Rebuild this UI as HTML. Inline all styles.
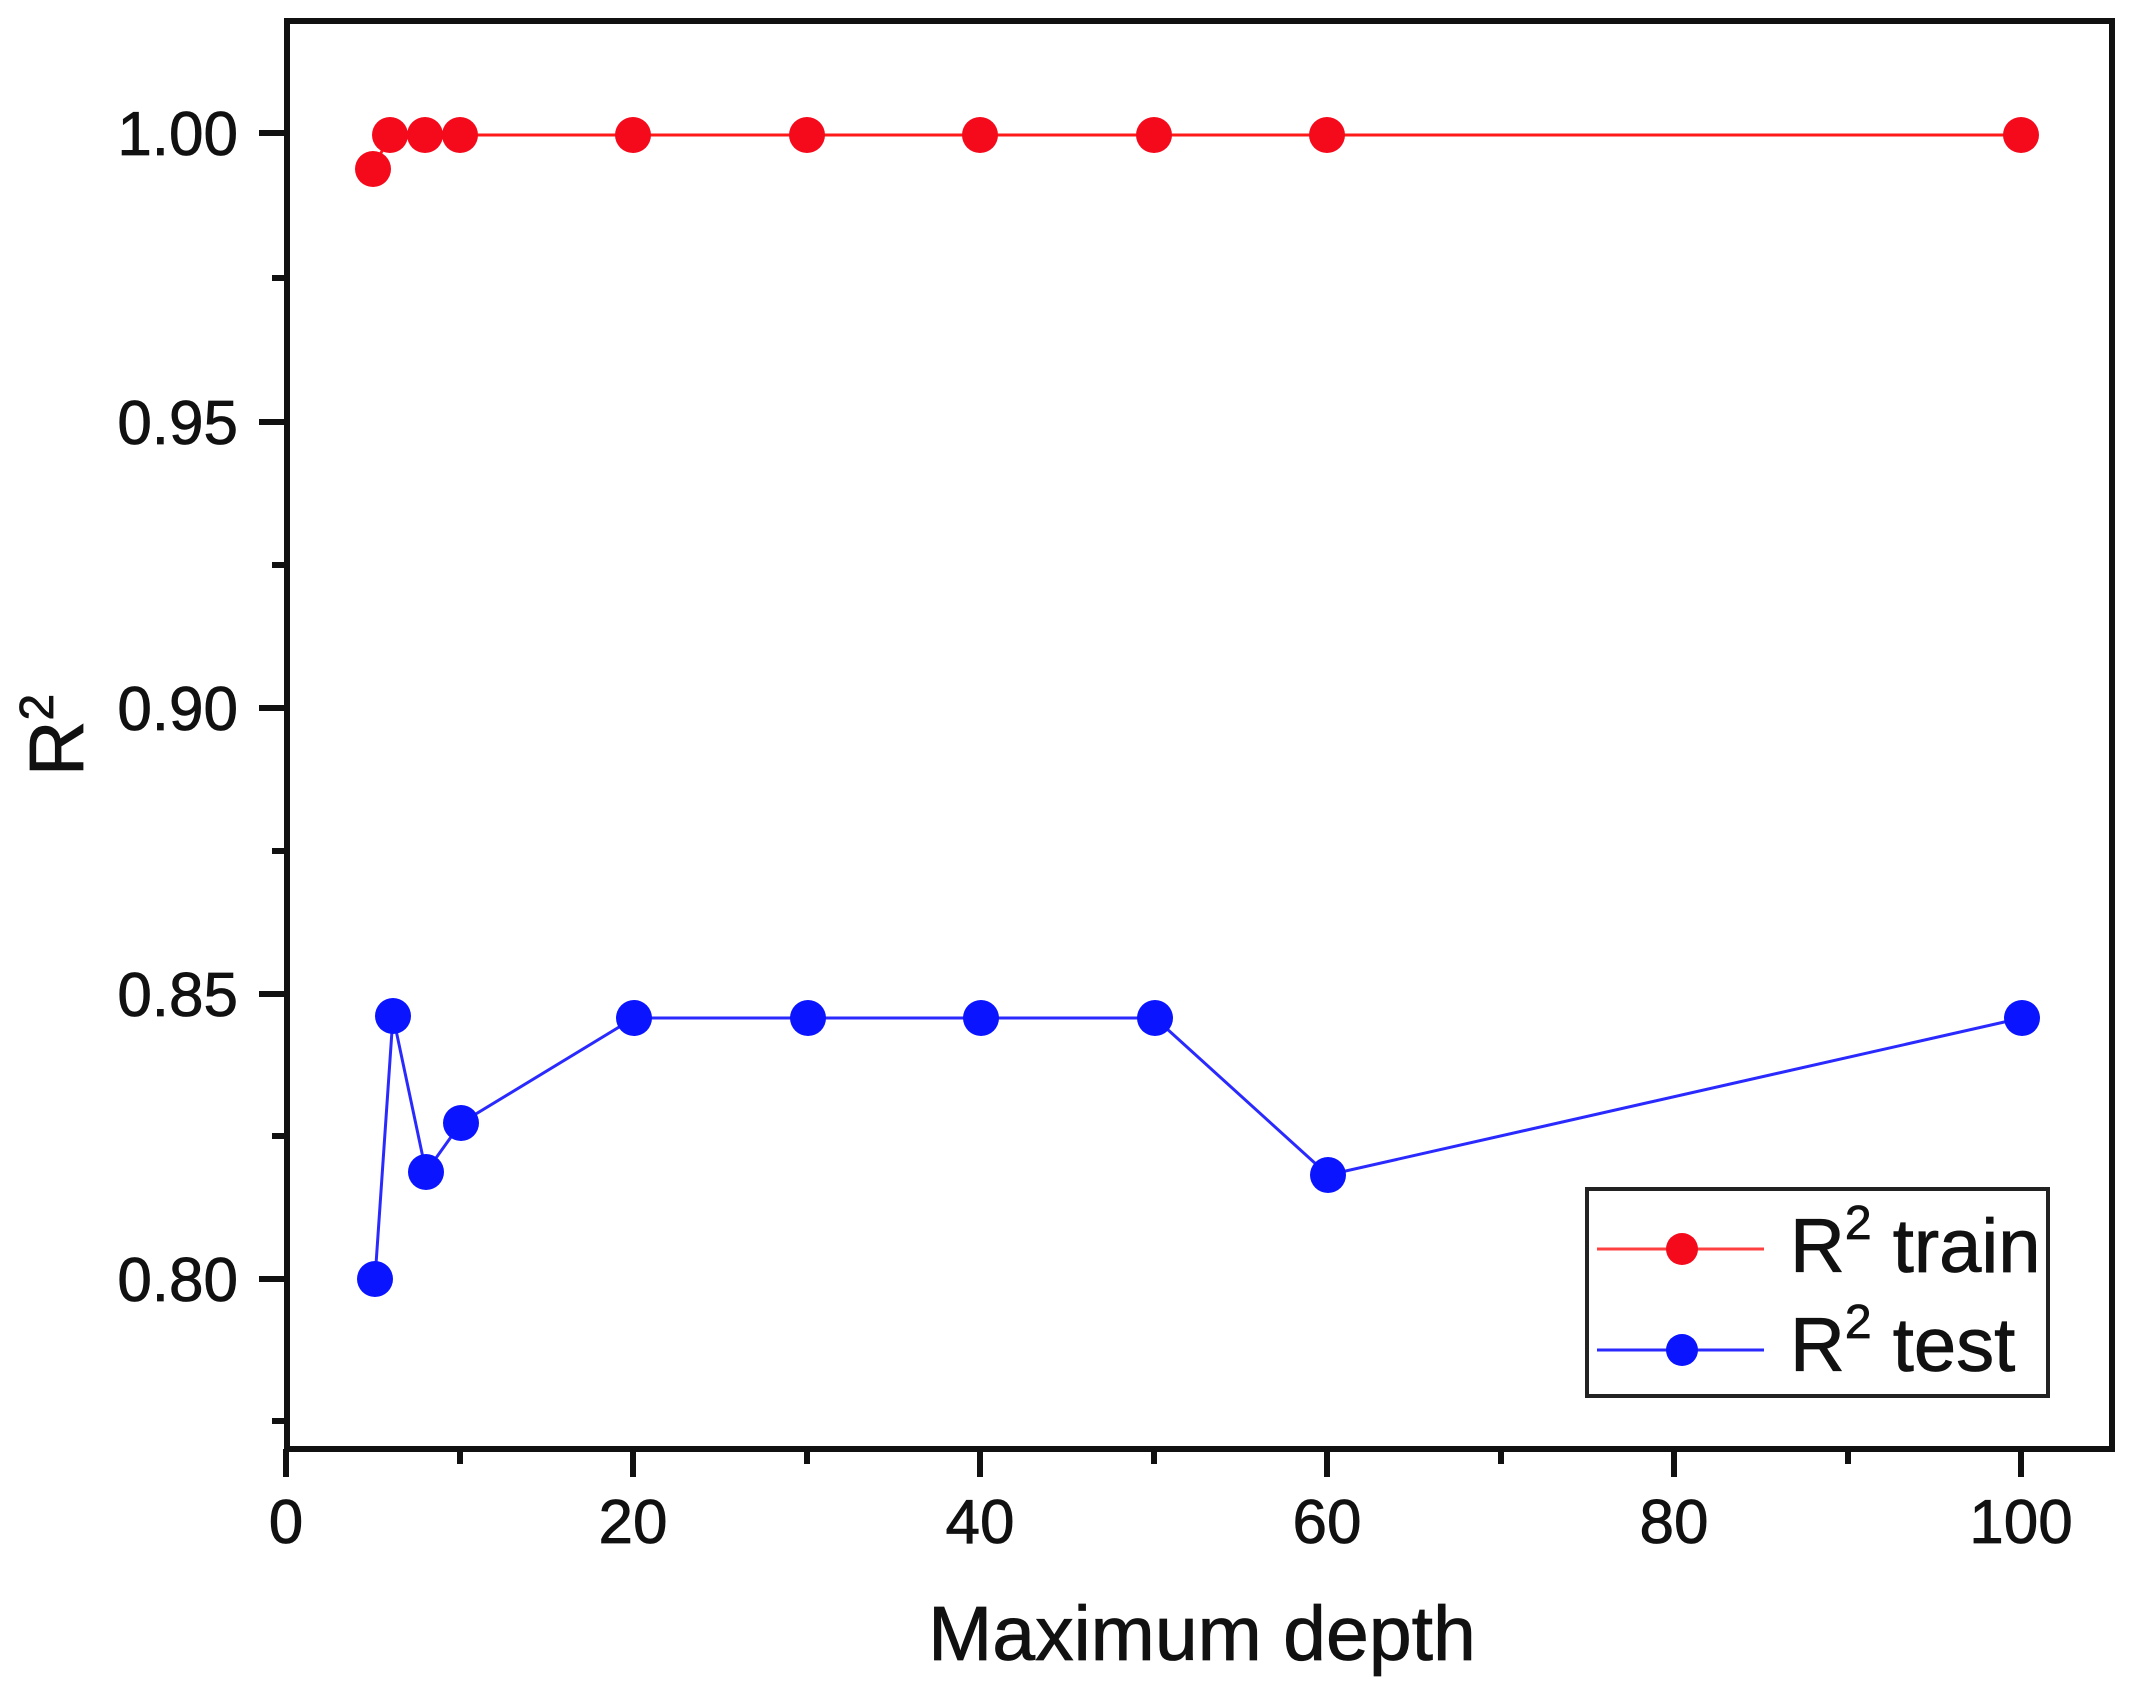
<!DOCTYPE html>
<html><head><meta charset="utf-8"><style>html,body{margin:0;padding:0;background:#fff}svg{display:block}</style></head>
<body>
<svg width="2136" height="1686" viewBox="0 0 2136 1686" xmlns="http://www.w3.org/2000/svg" font-family="Liberation Sans, Arial, sans-serif">
<rect width="2136" height="1686" fill="#fff"/>
<rect x="287" y="21" width="1825" height="1428" fill="none" stroke="#111" stroke-width="6"/>
<g stroke="#111" stroke-width="6">
<line x1="259" y1="133" x2="287" y2="133"/>
<line x1="259" y1="422" x2="287" y2="422"/>
<line x1="259" y1="708" x2="287" y2="708"/>
<line x1="259" y1="994" x2="287" y2="994"/>
<line x1="259" y1="1279" x2="287" y2="1279"/>
<line x1="272" y1="278" x2="287" y2="278"/>
<line x1="272" y1="565" x2="287" y2="565"/>
<line x1="272" y1="851" x2="287" y2="851"/>
<line x1="272" y1="1136" x2="287" y2="1136"/>
<line x1="272" y1="1421" x2="287" y2="1421"/>
<line x1="286" y1="1449" x2="286" y2="1477"/>
<line x1="633" y1="1449" x2="633" y2="1477"/>
<line x1="980" y1="1449" x2="980" y2="1477"/>
<line x1="1327" y1="1449" x2="1327" y2="1477"/>
<line x1="1674" y1="1449" x2="1674" y2="1477"/>
<line x1="2021" y1="1449" x2="2021" y2="1477"/>
<line x1="460" y1="1449" x2="460" y2="1464"/>
<line x1="807" y1="1449" x2="807" y2="1464"/>
<line x1="1154" y1="1449" x2="1154" y2="1464"/>
<line x1="1501" y1="1449" x2="1501" y2="1464"/>
<line x1="1848" y1="1449" x2="1848" y2="1464"/>
</g>
<g font-size="62" fill="#111" text-anchor="end" stroke="#111" stroke-width="0.8">
<text x="238" y="155">1.00</text>
<text x="238" y="444">0.95</text>
<text x="238" y="730">0.90</text>
<text x="238" y="1016">0.85</text>
<text x="238" y="1301">0.80</text>
</g>
<g font-size="62" fill="#111" text-anchor="middle" stroke="#111" stroke-width="0.8">
<text x="286" y="1543">0</text>
<text x="633" y="1543">20</text>
<text x="980" y="1543">40</text>
<text x="1327" y="1543">60</text>
<text x="1674" y="1543">80</text>
<text x="2021" y="1543">100</text>
</g>
<text x="1202" y="1660" font-size="77" fill="#111" text-anchor="middle" stroke="#111" stroke-width="0.8">Maximum depth</text>
<text transform="translate(83,735) rotate(-90)" font-size="77" fill="#111" text-anchor="middle" stroke="#111" stroke-width="0.8">R<tspan font-size="48" dy="-30">2</tspan></text>
<polyline fill="none" stroke="#ff1a1a" stroke-width="3" points="373,169 390,135 425,135 460,135 633,135 807,135 980,135 1154,135 1327,135 2021,135"/>
<g fill="#f50a1c">
<circle cx="373" cy="169" r="18"/><circle cx="390" cy="135" r="18"/><circle cx="425" cy="135" r="18"/><circle cx="460" cy="135" r="18"/><circle cx="633" cy="135" r="18"/><circle cx="807" cy="135" r="18"/><circle cx="980" cy="135" r="18"/><circle cx="1154" cy="135" r="18"/><circle cx="1327" cy="135" r="18"/><circle cx="2021" cy="135" r="18"/>
</g>
<polyline fill="none" stroke="#2a2aff" stroke-width="3" points="375,1279 393,1016 426,1172 461,1123 634,1018 808,1018 981,1018 1155,1018 1328,1175 2022,1018"/>
<g fill="#0a14ff">
<circle cx="375" cy="1279" r="18"/><circle cx="393" cy="1016" r="18"/><circle cx="426" cy="1172" r="18"/><circle cx="461" cy="1123" r="18"/><circle cx="634" cy="1018" r="18"/><circle cx="808" cy="1018" r="18"/><circle cx="981" cy="1018" r="18"/><circle cx="1155" cy="1018" r="18"/><circle cx="1328" cy="1175" r="18"/><circle cx="2022" cy="1018" r="18"/>
</g>
<rect x="1587" y="1189" width="461" height="207" fill="#fff" stroke="#222" stroke-width="4"/>
<line x1="1597" y1="1249" x2="1764" y2="1249" stroke="#ff4040" stroke-width="3"/>
<circle cx="1682" cy="1249" r="16" fill="#f50a1c"/>
<line x1="1597" y1="1350" x2="1764" y2="1350" stroke="#2a2aff" stroke-width="3"/>
<circle cx="1682" cy="1350" r="16" fill="#0a14ff"/>
<g font-size="76" fill="#111" stroke="#111" stroke-width="0.8">
<text x="1790" y="1272">R<tspan font-size="48" dy="-33">2</tspan><tspan dy="33"> train</tspan></text>
<text x="1790" y="1371">R<tspan font-size="48" dy="-33">2</tspan><tspan dy="33"> test</tspan></text>
</g>
</svg>
</body></html>
